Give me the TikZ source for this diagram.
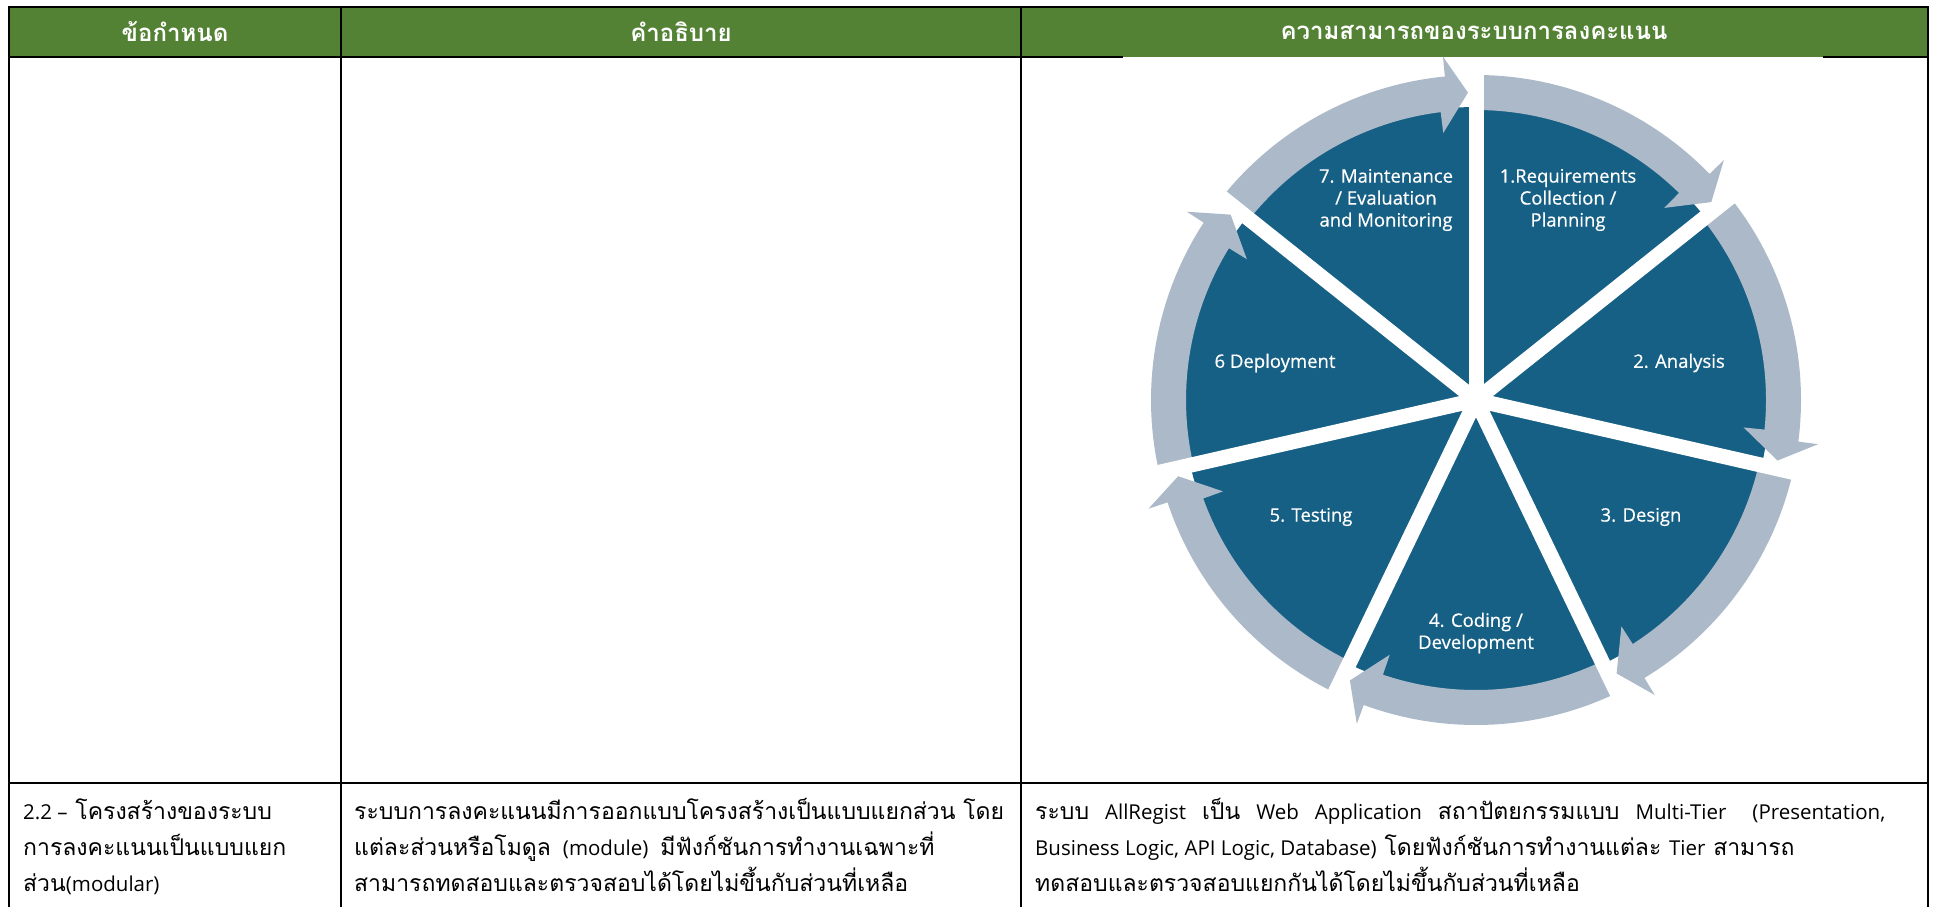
\documentclass[tikz,border=0pt]{standalone}
\usepackage{fontspec}
\newfontfamily\thaifont[Script=Thai]{Loma}
\newfontfamily\latinfont{Open Sans}
\newfontfamily\lblfont[FakeBold=0.5]{Open Sans}
\newcommand{\latn}[1]{{\latinfont\fontsize{20.5}{36}\selectfont #1}}
\newcommand{\wsp}[1]{\hspace*{#1pt}}
\definecolor{hdrgreen}{HTML}{548235}
\definecolor{pieblue}{HTML}{176085}
\definecolor{ringgray}{HTML}{ACB9C8}
\tikzset{
  tblline/.style={line width=2pt, black},
  hdrtext/.style={text=white, font=\thaifont\bfseries\fontsize{24}{26}\selectfont, inner sep=0pt},
  bodytext/.style={anchor=base west, inner sep=0pt, font=\thaifont\fontsize{23}{36}\selectfont},
  seglabel/.style={text=white, align=center, inner sep=0pt, font=\lblfont\fontsize{18.5}{22}\selectfont},
  gapline/.style={white, line width=15pt, line cap=butt},
}
\begin{document}
\begin{tikzpicture}[x=1pt, y=-1pt]
\useasboundingbox (0,0) rectangle (1937,907);

% header band
\fill[hdrgreen] (9,7) rectangle (1928,57);

% table grid
\draw[tblline] (8,7) -- (1929,7);
\draw[tblline] (9,57) -- (1123,57);
\draw[tblline] (1823,57) -- (1928,57);
\draw[tblline] (9,783) -- (1928,783);
\draw[tblline] (9,7) -- (9,907);
\draw[tblline] (341,7) -- (341,907);
\draw[tblline] (1021,7) -- (1021,907);
\draw[tblline] (1928,7) -- (1928,907);

% header captions
\node[hdrtext] (h1) at (175,32) {ข้อกำหนด};
\node[hdrtext] (h2) at (681,32) {คำอธิบาย};
\node[hdrtext] (h3) at (1474,32) {ความสามารถของระบบการลงคะแนน};

% development cycle wheel
\begin{scope}[shift={(1476,400)}, yscale=-1]
  \fill[pieblue] (0,0) circle[radius=293];
  \foreach \i in {0,...,6} {
    \pgfmathsetmacro{\a}{90-\i*360/7}
    \pgfmathsetmacro{\b}{\a-360/7}
    \pgfmathsetmacro{\tip}{\b+1.5}
    \pgfmathsetmacro{\bo}{\b+5.5}
    \pgfmathsetmacro{\bi}{\b+7}
    \fill[ringgray] (\a:325) arc[start angle=\a, end angle=\bo, radius=325]
      -- (\bo:345) -- (\tip:307.5) -- (\bi:269) -- (\bi:290)
      arc[start angle=\bi, end angle=\a, radius=290] -- cycle;
  }
  \foreach \i in {0,...,6} {
    \pgfmathsetmacro{\a}{90-\i*360/7}
    \draw[gapline] (0,0) -- (\a:332);
  }
\end{scope}

\node[seglabel] (s1) at (1568,200) {1.Requirements\\Collection /\\Planning};
\node[seglabel] (s2) at (1679,363) {2. Analysis};
\node[seglabel] (s3) at (1641,517) {3. Design};
\node[seglabel] (s4) at (1476,633) {4. Coding /\\Development};
\node[seglabel] (s5) at (1311,517) {5. Testing};
\node[seglabel] (s6) at (1275,363) {6 Deployment};
\node[seglabel] (s7) at (1386,200) {7. Maintenance\\/ Evaluation\\and Monitoring};

% second row text
\node[bodytext] (c1a) at (23,819) {\latn{2.2 –} โครงสร้างของระบบ};
\node[bodytext] (c1b) at (23,855) {การลงคะแนนเป็นแบบแยก};
\node[bodytext] (c1c) at (23,891) {ส่วน\latn{(modular)}};

\node[bodytext] (c2a) at (354,819) {ระบบการลงคะแนนมีการออกแบบโครงสร้างเป็นแบบแยกส่วน โดย};
\node[bodytext] (c2b) at (354,855) {แต่ละส่วนหรือโมดูล\wsp{12}\latn{(module)}\wsp{12}มีฟังก์ชันการทำงานเฉพาะที่};
\node[bodytext] (c2c) at (354,891) {สามารถทดสอบและตรวจสอบได้โดยไม่ขึ้นกับส่วนที่เหลือ};

\node[bodytext] (c3a) at (1035,819) {ระบบ\wsp{16}\latn{AllRegist}\wsp{16}เป็น\wsp{16}\latn{Web}\wsp{16}\latn{Application}\wsp{16}สถาปัตยกรรมแบบ\wsp{16}\latn{Multi-Tier}\wsp{26}\latn{(Presentation,}};
\node[bodytext] (c3b) at (1035,855) {\latn{Business Logic, API Logic, Database)} โดยฟังก์ชันการทำงานแต่ละ \latn{Tier} สามารถ};
\node[bodytext] (c3c) at (1035,891) {ทดสอบและตรวจสอบแยกกันได้โดยไม่ขึ้นกับส่วนที่เหลือ};
\end{tikzpicture}
\end{document}
